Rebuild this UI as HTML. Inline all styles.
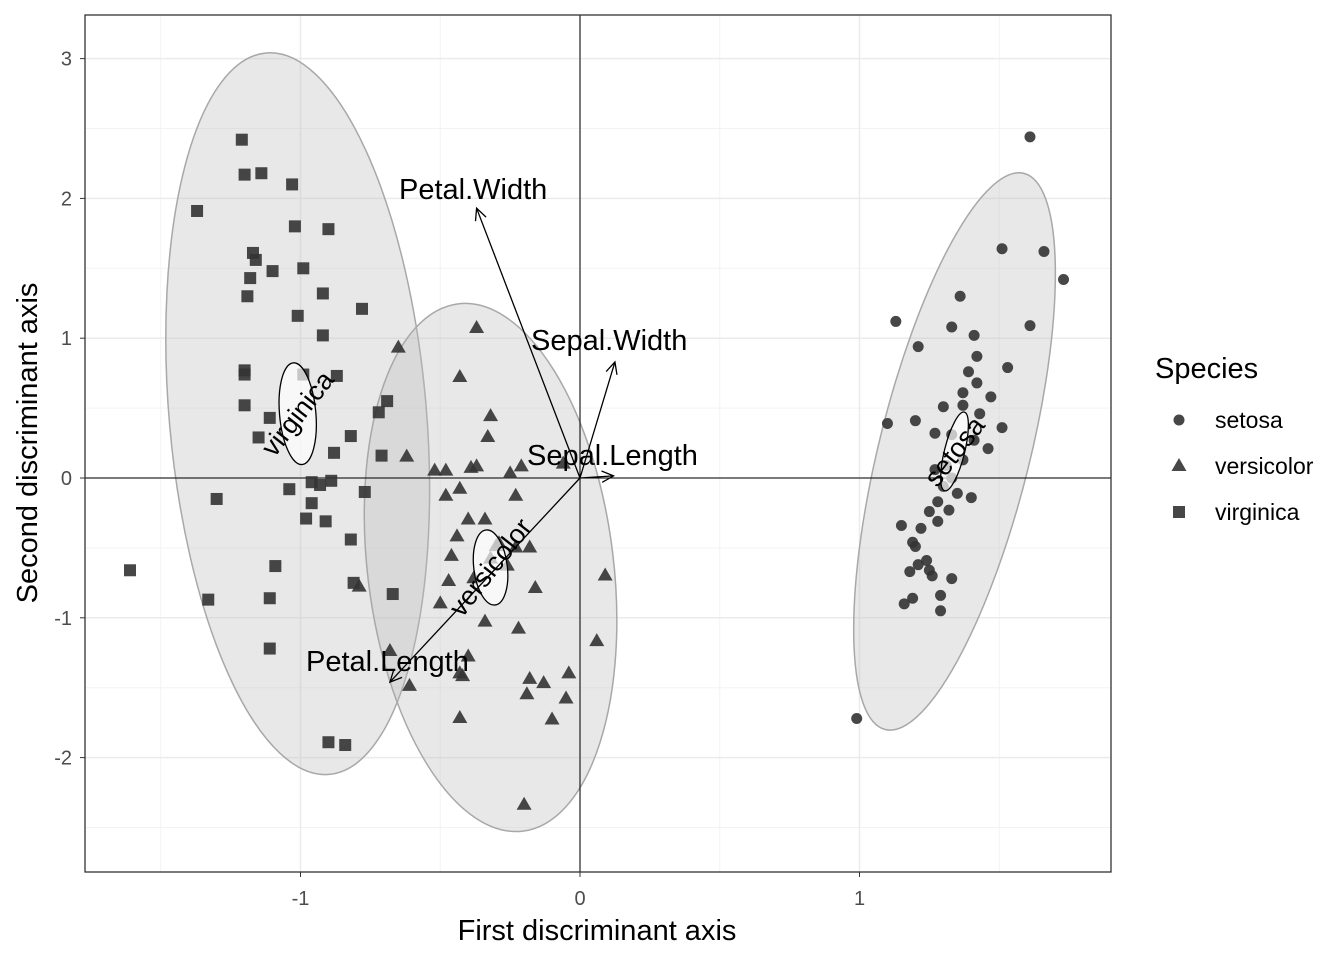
<!DOCTYPE html>
<html><head><meta charset="utf-8"><style>
body{margin:0;background:#fff;}
svg text{font-family:"Liberation Sans",sans-serif;}
</style></head><body>
<svg id="chart" width="1344" height="960" xmlns="http://www.w3.org/2000/svg"></svg>
<script>
const setosaX=[1.61,1.51,1.66,1.73,1.36,1.61,1.13,1.33,1.41,1.21,1.42,1.53,1.39,1.42,1.37,1.47,1.30,1.37,1.10,1.20,1.43,1.51,1.27,1.33,1.41,1.46,1.37,1.31,1.27,1.33,1.35,1.30,1.28,1.32,1.40,1.25,1.28,1.15,1.22,1.19,1.20,1.24,1.21,1.18,1.25,1.19,1.26,1.33,1.29,1.16,1.29,0.99];
const setosaY=[2.44,1.64,1.62,1.42,1.30,1.09,1.12,1.08,1.02,0.94,0.87,0.79,0.76,0.68,0.61,0.58,0.51,0.52,0.39,0.41,0.46,0.36,0.32,0.31,0.27,0.21,0.13,0.09,0.06,0.00,-0.11,-0.06,-0.17,-0.23,-0.14,-0.24,-0.31,-0.34,-0.36,-0.46,-0.49,-0.59,-0.62,-0.67,-0.66,-0.86,-0.70,-0.72,-0.84,-0.90,-0.95,-1.72];
const versiX=[-0.37,-0.65,-0.43,-0.32,-0.33,-0.62,-0.52,-0.48,-0.37,-0.39,-0.25,-0.21,-0.06,-0.43,-0.48,-0.23,-0.40,-0.34,-0.44,-0.30,-0.46,-0.32,-0.23,-0.26,-0.29,-0.18,-0.47,-0.38,-0.16,0.09,-0.50,-0.34,-0.22,0.06,-0.40,-0.43,-0.42,-0.61,-0.18,-0.04,-0.13,-0.19,-0.05,-0.10,-0.43,-0.20,-0.79,-0.68];
const versiY=[1.08,0.94,0.73,0.45,0.30,0.16,0.06,0.06,0.09,0.08,0.04,0.09,0.11,-0.07,-0.12,-0.12,-0.29,-0.29,-0.41,-0.48,-0.55,-0.57,-0.49,-0.62,-0.46,-0.49,-0.73,-0.71,-0.78,-0.69,-0.89,-1.02,-1.07,-1.16,-1.27,-1.39,-1.41,-1.48,-1.43,-1.39,-1.46,-1.54,-1.57,-1.72,-1.71,-2.33,-0.77,-1.23];
const virgX=[-1.21,-1.20,-1.14,-1.03,-1.37,-1.02,-0.90,-1.17,-1.16,-0.99,-1.10,-1.18,-1.19,-0.92,-0.78,-1.01,-0.92,-1.20,-1.20,-0.99,-0.87,-0.69,-1.20,-0.72,-1.11,-0.82,-1.15,-0.88,-0.71,-0.96,-0.89,-0.93,-1.04,-0.77,-0.96,-1.30,-0.98,-0.91,-0.82,-1.09,-1.61,-0.81,-1.11,-1.33,-0.67,-1.11,-0.90,-0.84];
const virgY=[2.42,2.17,2.18,2.10,1.91,1.80,1.78,1.61,1.56,1.50,1.48,1.43,1.30,1.32,1.21,1.16,1.02,0.77,0.74,0.74,0.73,0.55,0.52,0.47,0.43,0.30,0.29,0.18,0.16,-0.03,-0.02,-0.05,-0.08,-0.10,-0.18,-0.15,-0.29,-0.31,-0.44,-0.63,-0.66,-0.75,-0.86,-0.87,-0.83,-1.22,-1.89,-1.91];
const xTicks=[-1,0,1];
const yTicks=[-2,-1,0,1,2,3];
const xMinor=[-1.5,-0.5,0.5,1.5];
const yMinor=[-2.5,-1.5,-0.5,0.5,1.5,2.5];
const ellNames=["virginica","versicolor","setosa"];
const ellCX=[-1.01,-0.32,1.34];
const ellCY=[0.46,-0.64,0.19];
const ellRX=[0.46,0.44,0.27];
const ellRY=[2.59,1.90,2.05];
const ellAng=[-5,-7,14];
const smRX=[0.065,0.06,0.036];
const smRY=[0.365,0.27,0.29];
const arrowNames=["Petal.Width","Sepal.Width","Sepal.Length","Petal.Length"];
const arrowX=[-0.37,0.125,0.12,-0.68];
const arrowY=[1.93,0.83,0.015,-1.46];

const NS="http://www.w3.org/2000/svg";
const svg=document.getElementById('chart');
const L=85,R=1111,T=15,B=872;
const sx=v=>580+v*279.5, sy=v=>478-v*139.8;
function mk(tag,attrs,parent){const e=document.createElementNS(NS,tag);for(const k in attrs)e.setAttribute(k,attrs[k]);(parent||svg).appendChild(e);return e;}
mk('rect',{x:L,y:T,width:R-L,height:B-T,fill:'#fff'});
xMinor.forEach(v=>{const l=mk('line',{x1:sx(v),x2:sx(v),y1:T,y2:B,stroke:'#f3f3f3','stroke-width':1});});
yMinor.forEach(v=>{const l=mk('line',{x1:L,x2:R,y1:sy(v),y2:sy(v),stroke:'#f3f3f3','stroke-width':1});});
xTicks.forEach(v=>{const l=mk('line',{x1:sx(v),x2:sx(v),y1:T,y2:B,stroke:'#ebebeb','stroke-width':1.5});
 const t=mk('text',{x:sx(v),y:905,'text-anchor':'middle','font-size':20,fill:'#4d4d4d'});t.textContent=v;
 mk('line',{x1:sx(v),x2:sx(v),y1:B,y2:B+5,stroke:'#333'});});
yTicks.forEach(v=>{const l=mk('line',{x1:L,x2:R,y1:sy(v),y2:sy(v),stroke:'#ebebeb','stroke-width':1.5});
 const t=mk('text',{x:72,y:sy(v)+7,'text-anchor':'end','font-size':20,fill:'#4d4d4d'});t.textContent=v;
 mk('line',{x1:L-5,x2:L,y1:sy(v),y2:sy(v),stroke:'#333'});});
ellNames.forEach((n,i)=>{const cx=sx(ellCX[i]),cy=sy(ellCY[i]);
 const e=mk('ellipse',{cx:cx,cy:cy,rx:ellRX[i]*279.5,ry:ellRY[i]*139.8,fill:'#bdbdbd','fill-opacity':0.35,stroke:'#a8a8a8','stroke-width':1.5,transform:`rotate(${ellAng[i]} ${cx} ${cy})`});
 });
mk('line',{x1:L,x2:R,y1:sy(0),y2:sy(0),stroke:'#000','stroke-width':1});
mk('line',{x1:sx(0),x2:sx(0),y1:T,y2:B,stroke:'#000','stroke-width':1});
const g=mk('g',{fill:'#333','fill-opacity':0.9});
setosaX.forEach((v,i)=>{const c=mk('circle',{cx:sx(v),cy:sy(setosaY[i]),r:5.5},g);});
versiX.forEach((v,i)=>{const x=sx(v),y=sy(versiY[i]);const p=mk('polygon',{points:`${x},${y-7} ${x+7.5},${y+6} ${x-7.5},${y+6}`},g);});
virgX.forEach((v,i)=>{const x=sx(v),y=sy(virgY[i]);const r=mk('rect',{x:x-6,y:y-6,width:12,height:12},g);});
ellNames.forEach((n,i)=>{const cx=sx(ellCX[i]),cy=sy(ellCY[i]);
 const e=mk('ellipse',{cx:cx,cy:cy,rx:smRX[i]*279.5,ry:smRY[i]*139.8,fill:'#fff','fill-opacity':0.7,stroke:'#000','stroke-width':1.3,transform:`rotate(${ellAng[i]} ${cx} ${cy})`});
 
 const t=mk('text',{x:cx,y:cy+9,'text-anchor':'middle','font-size':27,fill:'#000',transform:`rotate(-52 ${cx} ${cy})`});t.textContent=n;
 });
const labPos=[[399,199],[531,350],[527,465],[306,671]];
arrowNames.forEach((n,i)=>{const x0=sx(0),y0=sy(0),x1=sx(arrowX[i]),y1=sy(arrowY[i]);
 const a=mk('line',{x1:x0,y1:y0,x2:x1,y2:y1,stroke:'#000','stroke-width':1.3});
 const ang=Math.atan2(y1-y0,x1-x0),h=13,w=0.45;
 mk('polyline',{points:`${x1-h*Math.cos(ang-w)},${y1-h*Math.sin(ang-w)} ${x1},${y1} ${x1-h*Math.cos(ang+w)},${y1-h*Math.sin(ang+w)}`,fill:'none',stroke:'#000','stroke-width':1.3});
 const t=mk('text',{x:labPos[i][0],y:labPos[i][1],'font-size':29,fill:'#000'});t.textContent=n;});
mk('rect',{x:L,y:T,width:R-L,height:B-T,fill:'none',stroke:'#333','stroke-width':1.3});
let t=mk('text',{x:597,y:940,'text-anchor':'middle','font-size':29,fill:'#000'});t.textContent='First discriminant axis';
t=mk('text',{x:37,y:443,'text-anchor':'middle','font-size':29,fill:'#000',transform:'rotate(-90 37 443)'});t.textContent='Second discriminant axis';
t=mk('text',{x:1155,y:378,'font-size':29,fill:'#000'});t.textContent='Species';
const lg=mk('g',{fill:'#333','fill-opacity':0.9});
mk('circle',{cx:1179,cy:420,r:5.5},lg);
mk('polygon',{points:'1179,458 1186.5,471 1171.5,471'},lg);
mk('rect',{x:1173,y:506,width:12,height:12},lg);
[['setosa',428],['versicolor',474],['virginica',520]].forEach(([n,y])=>{const e=mk('text',{x:1215,y:y,'font-size':23,fill:'#000'});e.textContent=n;});
</script>
</body></html>
